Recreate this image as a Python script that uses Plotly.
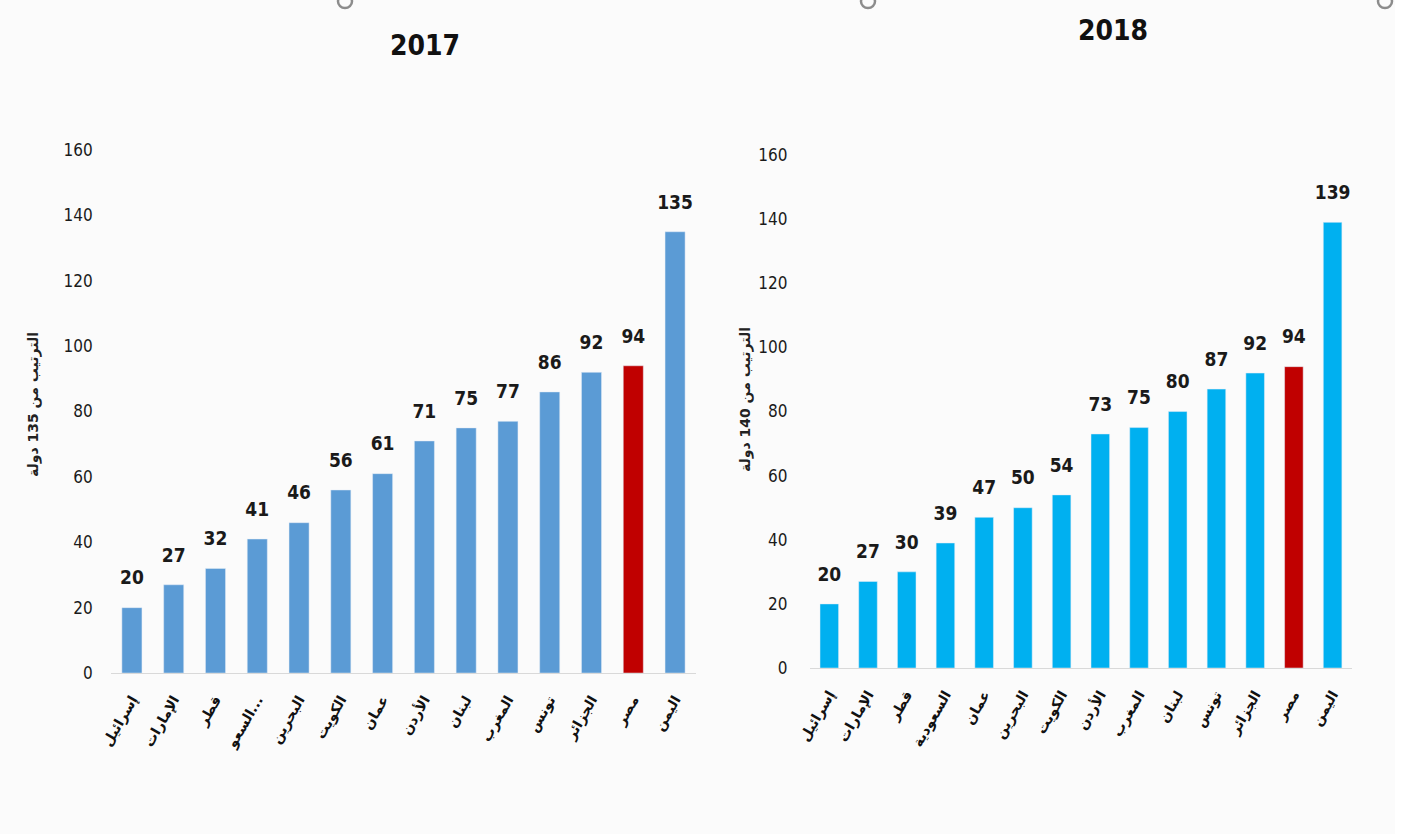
import plotly.graph_objects as go

# ---- data ----
countries_2017 = ["إسرائيل", "الإمارات", "قطر", "السعو...", "البحرين", "الكويت", "عمان",
                  "الأردن", "لبنان", "المغرب", "تونس", "الجزائر", "مصر", "اليمن"]
ranks_2017 = [20, 27, 32, 41, 46, 56, 61, 71, 75, 77, 86, 92, 94, 135]

countries_2018 = ["إسرائيل", "الإمارات", "قطر", "السعودية", "عمان", "البحرين", "الكويت",
                  "الأردن", "المغرب", "لبنان", "تونس", "الجزائر", "مصر", "اليمن"]
ranks_2018 = [20, 27, 30, 39, 47, 50, 54, 73, 75, 80, 87, 92, 94, 139]

highlight = "مصر"
y_ticks = [0, 20, 40, 60, 80, 100, 120, 140, 160]

title_2017 = "2017"
title_2018 = "2018"
ytitle_2017 = "الترتيب من 135 دولة"
ytitle_2018 = "الترتيب من 140 دولة"

# ---- styles ----
W, H = 1402, 834
c2017 = "#5b9bd5"
c2018 = "#00b0f0"
c_hl = "#c00000"
num_font = "DejaVu Sans Condensed, Liberation Sans Narrow, Liberation Sans, sans-serif"
ar_font = "DejaVu Sans, Noto Sans, sans-serif"

fig = go.Figure()

for cats, vals, col, xa, ya in [
    (countries_2017, ranks_2017, c2017, "x", "y"),
    (countries_2018, ranks_2018, c2018, "x2", "y2"),
]:
    fig.add_trace(go.Bar(
        x=cats, y=vals,
        marker_color=[c_hl if c == highlight else col for c in cats],
        xaxis=xa, yaxis=ya, showlegend=False, hoverinfo="x+y",
    ))
    # value labels, lifted above the bar tops by an invisible marker
    fig.add_trace(go.Scatter(
        x=cats, y=vals, text=[f"<b>{v}</b>" for v in vals],
        mode="markers+text", textposition="top center", cliponaxis=False,
        marker=dict(size=28, color="rgba(0,0,0,0)"),
        textfont=dict(family=num_font, size=19, color="#1a1a1a"),
        xaxis=xa, yaxis=ya, showlegend=False, hoverinfo="skip",
    ))

xcommon = dict(
    tickangle=-60,
    tickfont=dict(family=ar_font, size=14, color="#111111", weight="bold"),
    showgrid=False, zeroline=False,
    showline=True, linecolor="#d9d9d9", linewidth=1,
    ticks="outside", ticklen=12, tickcolor="rgba(0,0,0,0)",
    type="category", automargin=False, range=[-0.5, 13.5],
)
ycommon = dict(
    range=[0, 160], tickvals=y_ticks,
    tickfont=dict(family=num_font, size=17, color="#1a1a1a"),
    showgrid=False, zeroline=False, showline=False,
    ticks="outside", tickcolor="rgba(0,0,0,0)", automargin=False,
)


def px(x, y):
    return x / W, 1 - y / H


t1x, t1y = px(425, 45)
t2x, t2y = px(1113, 30)
a1x, a1y = px(33, 405)
a2x, a2y = px(745, 400)

# small handle arcs visible at the top edge of the picture
shapes = []
for hx in [345, 868, 1385]:
    x0, y0 = px(hx - 7, -5)
    x1, y1 = px(hx + 7, 8)
    shapes.append(dict(type="circle", xref="paper", yref="paper",
                       x0=x0, x1=x1, y0=y0, y1=y1,
                       line=dict(color="#8c8c8c", width=2.5), fillcolor="rgba(0,0,0,0)"))
# white strip on the right edge
rx0, _ = px(1395, 0)
shapes.append(dict(type="rect", xref="paper", yref="paper", x0=rx0, x1=1, y0=0, y1=1,
                   line=dict(width=0), fillcolor="#ffffff", layer="below"))

fig.update_layout(
    width=W, height=H,
    margin=dict(l=0, r=0, t=0, b=0),
    paper_bgcolor="#fbfbfb", plot_bgcolor="rgba(0,0,0,0)",
    bargap=0.52,
    xaxis=dict(domain=[0.0792, 0.4964], anchor="y", **xcommon),
    yaxis=dict(domain=[0.1930, 0.8201], anchor="x", ticklen=14, **ycommon),
    xaxis2=dict(domain=[0.5777, 0.9643], anchor="y2", **xcommon),
    yaxis2=dict(domain=[0.1990, 0.8141], anchor="x2", ticklen=18, **ycommon),
    shapes=shapes,
    annotations=[
        dict(text="<b>" + title_2017 + "</b>", x=t1x, y=t1y, xref="paper", yref="paper",
             xanchor="center", yanchor="middle", showarrow=False,
             font=dict(family=num_font, size=28, color="#111111")),
        dict(text="<b>" + title_2018 + "</b>", x=t2x, y=t2y, xref="paper", yref="paper",
             xanchor="center", yanchor="middle", showarrow=False,
             font=dict(family=num_font, size=28, color="#111111")),
        dict(text=ytitle_2017, x=a1x, y=a1y, xref="paper", yref="paper",
             xanchor="center", yanchor="middle", textangle=-90, showarrow=False,
             font=dict(family=ar_font, size=14, color="#222222", weight="bold")),
        dict(text=ytitle_2018, x=a2x, y=a2y, xref="paper", yref="paper",
             xanchor="center", yanchor="middle", textangle=-90, showarrow=False,
             font=dict(family=ar_font, size=14, color="#222222", weight="bold")),
    ],
)

fig.write_html("out.html", config={"displayModeBar": False},
               post_script="document.body.style.margin='0px';document.body.style.overflow='hidden';")
